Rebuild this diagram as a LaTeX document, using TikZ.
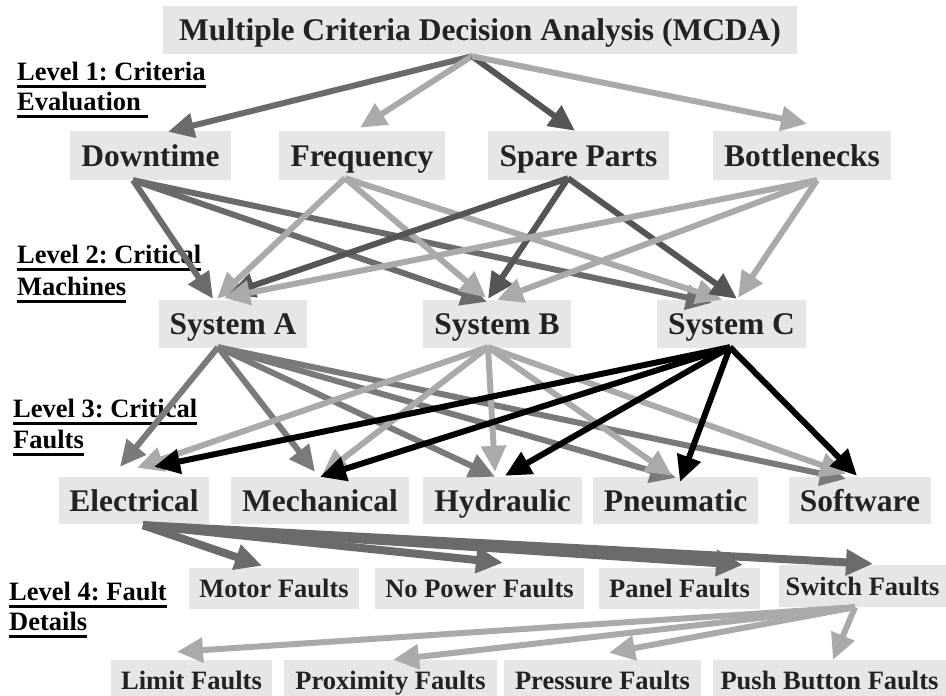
\documentclass[tikz,border=0pt]{standalone}
\usepackage{fontspec}
\setmainfont{Liberation Serif}
\usetikzlibrary{arrows.meta,calc}
\frenchspacing

\definecolor{boxfill}{HTML}{E6E6E6}
\definecolor{inktext}{HTML}{222222}
\definecolor{cdark}{HTML}{555555}
\definecolor{cmid}{HTML}{6B6B6B}
\definecolor{cmidA}{HTML}{7A7A7A}
\definecolor{clight}{HTML}{AAAAAA}

% thick underline for the level captions
\newcommand\lvlul[1]{\setbox0=\hbox{#1}\rlap{\rule[-8pt]{\wd0}{3pt}}\box0}

\begin{document}
\begin{tikzpicture}[x=1pt,y=-1pt,
  box/.style={fill=boxfill,text=inktext,inner sep=0pt,text depth=0pt},
  bigbox/.style={box,font=\bfseries\fontsize{31.5}{36}\selectfont,text height=21pt},
  smallbox/.style={box,font=\bfseries\fontsize{26.5}{30}\selectfont,text height=18.5pt},
  lvl/.style={anchor=base west,inner sep=0pt,font=\bfseries\fontsize{26.5}{30}\selectfont,text=black},
  link/.style={line width=6pt,-{Triangle[length=26pt,width=24pt]}},
  heavylink/.style={line width=8pt,-{Triangle[length=27pt,width=25pt]}}
]
\useasboundingbox (0,0) rectangle (946,696);
\clip (0,0) rectangle (946,696);

% ---- level captions ----
\node[lvl] (l1a) at (17,80)  {\lvlul{Level 1: Criteria}};
\node[lvl] (l1b) at (17,110) {\lvlul{Evaluation\ }};
\node[lvl] (l2a) at (17,263) {\lvlul{Level 2: Critical}};
\node[lvl] (l2b) at (17,295) {\lvlul{Machines}};
\node[lvl] (l3a) at (13,417) {\lvlul{Level 3: Critical}};
\node[lvl] (l3b) at (13,448) {\lvlul{Faults}};
\node[lvl] (l4a) at (9,600)  {\lvlul{Level 4: Fault}};
\node[lvl] (l4b) at (9,630)  {\lvlul{Details}};

% ---- root ----
\node[bigbox,minimum width=634pt,minimum height=48pt] (mcda) at (480,30) {Multiple Criteria Decision Analysis (MCDA)};

% ---- criteria ----
\node[bigbox,minimum width=161pt,minimum height=49pt] (dt) at (150.5,155.5) {Downtime};
\node[bigbox,minimum width=166pt,minimum height=49pt] (fr) at (362,155.5) {Frequency};
\node[bigbox,minimum width=181pt,minimum height=49pt] (sp) at (578.5,155.5) {Spare Parts};
\node[bigbox,minimum width=178pt,minimum height=49pt] (bn) at (802,155.5) {Bottlenecks};

% ---- machines ----
\node[bigbox,minimum width=148pt,minimum height=48pt] (sa) at (233,324) {System A};
\node[bigbox,minimum width=148pt,minimum height=48pt] (sb) at (497,324) {System B};
\node[bigbox,minimum width=149pt,minimum height=48pt] (sc) at (731.5,324) {System C};

% ---- fault classes ----
\node[bigbox,minimum width=150pt,minimum height=47pt] (el) at (134,500.5) {Electrical};
\node[bigbox,minimum width=178pt,minimum height=47pt] (me) at (320,500.5) {Mechanical};
\node[bigbox,minimum width=159pt,minimum height=47pt] (hy) at (502.5,500.5) {Hydraulic};
\node[bigbox,minimum width=165pt,minimum height=47pt] (pn) at (675.5,500.5) {Pneumatic};
\node[bigbox,minimum width=142pt,minimum height=47pt] (sw) at (860,500.5) {Software};

% ---- fault details ----
\node[smallbox,minimum width=170pt,minimum height=41pt] (mo) at (274,588.5) {Motor Faults};
\node[smallbox,minimum width=209pt,minimum height=41pt] (np) at (479.5,588.5) {No Power Faults};
\node[smallbox,minimum width=161pt,minimum height=41pt] (pa) at (679.5,588.5) {Panel Faults};
\node[smallbox,minimum width=167pt,minimum height=42pt] (st) at (862.5,586) {Switch Faults};
\node[smallbox,minimum width=161pt,minimum height=41pt] (li) at (191.5,680.5) {Limit Faults};
\node[smallbox,minimum width=213pt,minimum height=41pt] (px) at (390.5,680.5) {Proximity Faults};
\node[smallbox,minimum width=197pt,minimum height=41pt] (pr) at (602.5,680.5) {Pressure Faults};
\node[smallbox,minimum width=233pt,minimum height=41pt] (pb) at (829.5,680.5) {Push Button Faults};

% ---- root to criteria ----
\coordinate (mcda-o) at ($(mcda.south)+(-8,2)$);
\draw[link,cmid]   (mcda-o) -- ($(dt.north)+(17.5,1)$);
\draw[link,clight] (mcda-o) -- ($(fr.north)+(-2,-3)$);
\draw[link,cdark]  (mcda-o) -- ($(sp.north)+(-3.5,0)$);
\draw[link,clight] (mcda-o) -- ($(bn.north)+(5,-7)$);

% ---- criteria to machines ----
\coordinate (dt-o) at ($(dt.south)+(-17.5,0)$);
\coordinate (fr-o) at ($(fr.south)+(-17,-2)$);
\coordinate (sp-o) at ($(sp.south)+(-10.5,-2)$);
\coordinate (bn-o) at ($(bn.south)+(15,0)$);
\draw[link,cmid]   (dt-o) -- ($(sa.north)+(-20,-1)$);
\draw[link,cmid]   (dt-o) -- ($(sb.north)+(-10,2)$);
\draw[link,cmid]   (dt-o) -- ($(sc.north)+(-19.5,3)$);
\draw[link,clight] (fr-o) -- ($(sa.north)+(-16,-1)$);
\draw[link,clight] (fr-o) -- ($(sb.north)+(-11,-2)$);
\draw[link,clight] (fr-o) -- ($(sc.north)+(-9.5,0)$);
\draw[link,cdark]  (sp-o) -- ($(sa.north)+(-4,-6)$);
\draw[link,cdark]  (sp-o) -- ($(sb.north)+(-9,-1)$);
\draw[link,cdark]  (sp-o) -- ($(sc.north)+(5.5,-1)$);
\draw[link,clight] (bn-o) -- ($(sa.north)+(-9,-2)$);
\draw[link,clight] (bn-o) -- ($(sb.north)+(0,0)$);
\draw[link,clight] (bn-o) -- ($(sc.north)+(6.5,-2)$);

% ---- machines to fault classes ----
\coordinate (sa-o) at ($(sa.south)+(-15,-1)$);
\coordinate (sb-o) at ($(sb.south)+(-9,-1)$);
\coordinate (sc-o) at ($(sc.south)+(-1.5,-1)$);
\draw[link,cmidA]  (sa-o) -- ($(el.north)+(-14,-10)$);
\draw[link,cmidA]  (sa-o) -- ($(me.north)+(-5,-5)$);
\draw[link,cmidA]  (sa-o) -- ($(hy.north)+(-7.5,0)$);
\draw[link,cmidA]  (sa-o) -- ($(pn.north)+(0.5,1)$);
\draw[link,cmidA]  (sa-o) -- ($(sw.north)+(-14,2)$);
\draw[link,clight] (sb-o) -- ($(el.north)+(3,-9)$);
\draw[link,clight] (sb-o) -- ($(me.north)+(2,-2)$);
\draw[link,clight] (sb-o) -- ($(hy.north)+(-7.5,-5)$);
\draw[link,clight] (sb-o) -- ($(pn.north)+(-3.5,-1)$);
\draw[link,clight] (sb-o) -- ($(sw.north)+(-14,-3)$);
\draw[link,black]  (sc-o) -- ($(el.north)+(20,-10)$);
\draw[link,black]  (sc-o) -- ($(me.north)+(0,0)$);
\draw[link,black]  (sc-o) -- ($(hy.north)+(2.5,-1)$);
\draw[link,black]  (sc-o) -- ($(pn.north)+(4.5,5)$);
\draw[link,black]  (sc-o) -- ($(sw.north)+(-3,-1)$);

% ---- electrical details ----
\coordinate (el-o) at ($(el.south)+(9,1)$);
\draw[heavylink,cmid] (el-o) -- ($(mo.north)+(-12,-2)$);
\draw[heavylink,cmid] (el-o) -- ($(np.north)+(23.5,-5)$);
\draw[heavylink,cmid] (el-o) -- ($(pa.north)+(63.5,-3)$);
\draw[heavylink,cmid] (el-o) -- ($(st.north)+(10.5,-1)$);

% ---- switch details ----
\coordinate (st-o) at ($(st.south)+(-7.5,0)$);
\draw[link,clight] (st-o) -- ($(li.north)+(-14.5,-8)$);
\draw[link,clight] (st-o) -- ($(px.north)+(2.5,0)$);
\draw[link,clight] (st-o) -- ($(pr.north)+(6.5,-7)$);
\draw[link,clight] (st-o) -- ($(pb.north)+(3.5,0)$);
\end{tikzpicture}
\end{document}
